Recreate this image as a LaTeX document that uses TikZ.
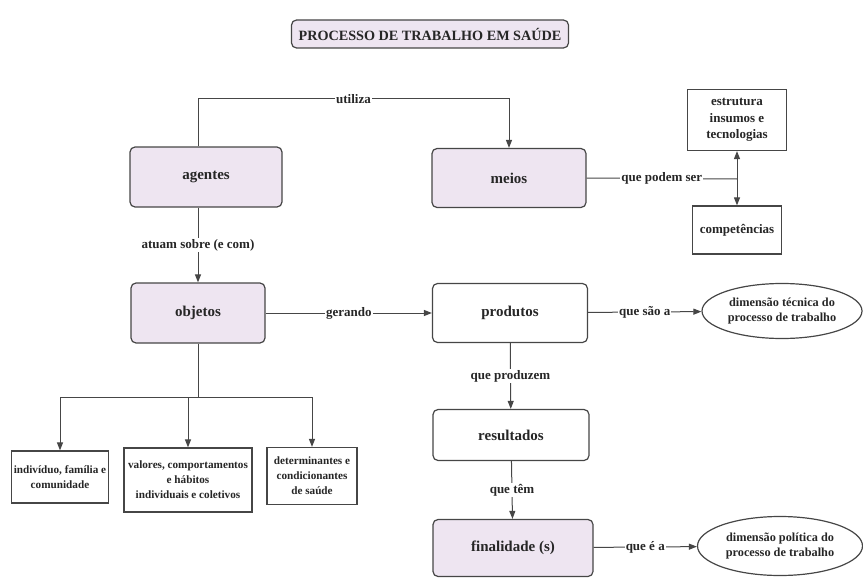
\documentclass[tikz,border=0pt]{standalone}
\usepackage{fontspec}
\setmainfont{Liberation Serif}
\usepackage{xcolor}
\usepackage{tikz}
\usetikzlibrary{arrows.meta,positioning,shapes.geometric,calc}

\definecolor{lila}{RGB}{238,229,241}
\definecolor{linha}{RGB}{70,70,70}

\begin{document}
\begin{tikzpicture}[
  x=1pt, y=-1pt,
  every node/.style={font=\bfseries, text=black!85},
  main/.style={draw=linha, rounded corners=5pt, line width=1.2pt, align=center, fill=lila, font=\bfseries\fontsize{15}{17}\selectfont},
  caixa/.style={draw=linha, line width=1.2pt, align=center, fill=white, inner sep=2pt, font=\bfseries\fontsize{11.2}{15}\selectfont},
  elipse/.style={draw=linha, line width=1.2pt, ellipse, align=center, inner sep=1pt, font=\bfseries\fontsize{12.3}{15}\selectfont},
  lbl/.style={fill=white, inner sep=1pt, font=\bfseries\fontsize{13}{15}\selectfont},
  arr/.style={-{Triangle[length=8pt, width=6pt]}, draw=linha, line width=1pt},
  lin/.style={draw=linha, line width=1pt}
]
\useasboundingbox (0,0) rectangle (863,578);

\node[main, minimum width=277pt, minimum height=28pt, font=\bfseries\fontsize{14.2}{16}\selectfont] (titulo) at (430,34) {PROCESSO DE TRABALHO EM SAÚDE};

\node[main, minimum width=152pt, minimum height=60pt] (agentes) at (206,177) {agentes};
\node[main, minimum width=154pt, minimum height=59pt] (meios) at (509,178) {meios};
\node[caixa, minimum width=99pt, minimum height=61pt, font=\bfseries\fontsize{13}{16.5}\selectfont] (estrutura) at (737,120) {estrutura\\insumos e\\tecnologias};
\node[caixa, minimum width=89pt, minimum height=48pt, font=\bfseries\fontsize{13}{16}\selectfont] (compet) at (737,230) {competências};
\node[main, minimum width=134pt, minimum height=60pt] (objetos) at (198,313) {objetos};
\node[main, minimum width=155pt, minimum height=59pt, fill=white] (produtos) at (510,313) {produtos};
\node[elipse, minimum width=160pt, minimum height=55pt] (tecnica) at (782,311) {dimensão técnica do\\processo de trabalho};
\node[main, minimum width=156pt, minimum height=51pt, fill=white] (resultados) at (511,435) {resultados};
\node[main, minimum width=160pt, minimum height=57pt] (finalidade) at (513,548) {finalidade (s)};
\node[elipse, minimum width=165pt, minimum height=59pt] (politica) at (780,546) {dimensão política do\\processo de trabalho};

\node[caixa, minimum width=97pt, minimum height=52pt] (individuo) at (60,477) {indivíduo, família e\\comunidade};
\node[caixa, minimum width=128pt, minimum height=64pt] (valores) at (188,480) {valores, comportamentos\\e hábitos\\individuais e coletivos};
\node[caixa, minimum width=90pt, minimum height=57pt] (determ) at (312,476) {determinantes e\\condicionantes\\de saúde};

\coordinate (topo) at (0,99);
\coordinate (junta) at (737,179);
\coordinate (ramo) at (198,397);

% ligacoes
\draw[arr] (agentes.north -| objetos.north) -- (objetos.north |- topo) -- node[lbl]{utiliza} (meios.north |- topo) -- (meios.north);
\draw[lin] (meios.east) -- node[lbl]{que podem ser} (junta);
\draw[arr] (junta) -- (estrutura.south);
\draw[arr] (junta) -- (compet.north);
\draw[arr] (agentes.south -| objetos.north) -- node[lbl]{atuam sobre (e com)} (objetos.north);
\draw[arr] (objetos) -- node[lbl]{gerando} (produtos);
\draw[arr] (produtos) -- node[lbl]{que são a} (tecnica);
\draw[arr] (produtos) -- node[lbl]{que produzem} (resultados);
\draw[arr] (resultados) -- node[lbl]{que têm} (finalidade);
\draw[arr] (finalidade) -- node[lbl]{que é a} (politica);

\draw[lin] (objetos.south) -- (ramo);
\draw[arr] (ramo) -| (individuo.north);
\draw[arr] (ramo) -| (valores.north);
\draw[arr] (ramo) -| (determ.north);
\end{tikzpicture}
\end{document}
